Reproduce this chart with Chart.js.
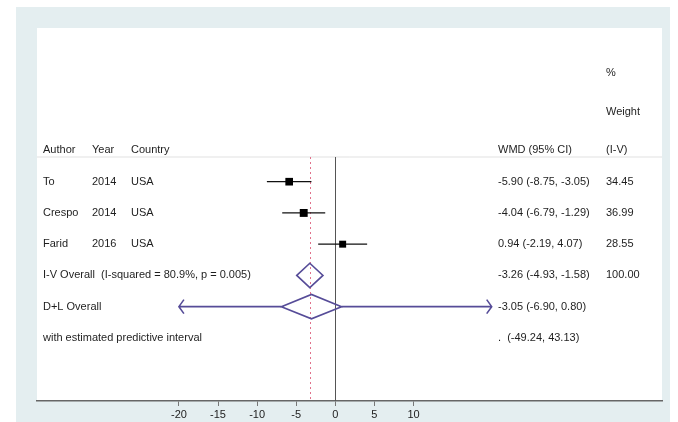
<!DOCTYPE html>
<html>
<head>
<meta charset="utf-8">
<script src="https://cdn.jsdelivr.net/npm/chart.js@4.4.1/dist/chart.umd.min.js"></script>
<style>
  html, body { margin: 0; padding: 0; background: #fff; }
  #wrap { width: 678px; height: 422px; }
</style>
</head>
<body>
<div id="wrap"><canvas id="forest" width="678" height="422"></canvas></div>
<script>
// study rows
const authors = ["To", "Crespo", "Farid"];
const years = ["2014", "2014", "2016"];
const countries = ["USA", "USA", "USA"];
const wmd = [-5.90, -4.04, 0.94];
const ciLow = [-8.75, -6.79, -2.19];
const ciHigh = [-3.05, -1.29, 4.07];
const weights = [34.45, 36.99, 28.55];

// pooled rows
const overallLabels = ["I-V Overall  (I-squared = 80.9%, p = 0.005)", "D+L Overall"];
const overallEst = [-3.26, -3.05];
const overallLow = [-4.93, -6.90];
const overallHigh = [-1.58, 0.80];
const overallWeight = ["100.00", ""];
const predLabel = "with estimated predictive interval";
const predInterval = [-49.24, 43.13];
const plotClip = [-20, 20];

const xTicks = [-20, -15, -10, -5, 0, 5, 10];

const FONT = '11px "Liberation Sans", Arial, sans-serif';
const TEXT = "#1e1e1e";
const DIAMOND = "#564c98";
const fmt = v => v.toFixed(2);

const studyRows = authors.map((_, i) => i + 1);
const ivRow = authors.length + 1;
const dlRow = authors.length + 2;
const predRow = authors.length + 3;

const forestPlugin = {
  id: "forest",
  beforeDraw(chart) {
    const { ctx, chartArea: a } = chart;
    ctx.save();
    ctx.fillStyle = "#fff";
    ctx.fillRect(0, 0, chart.width, chart.height);
    ctx.fillStyle = "#e4eef0";
    ctx.fillRect(16, 7, 654, 415);
    ctx.fillStyle = "#fff";
    ctx.fillRect(a.left, a.top, a.right - a.left, a.bottom - a.top);
    ctx.restore();
  },
  beforeDatasetsDraw(chart) {
    const { ctx, chartArea: a, scales: { x, y } } = chart;
    const sepY = y.getPixelForValue(0.21);
    ctx.save();
    // separator under header
    ctx.strokeStyle = "#e2e2e2";
    ctx.lineWidth = 1;
    ctx.beginPath();
    ctx.moveTo(a.left, sepY); ctx.lineTo(a.right, sepY);
    ctx.stroke();
    // no-effect line
    ctx.strokeStyle = "#555";
    ctx.beginPath();
    ctx.moveTo(Math.round(x.getPixelForValue(0)) + 0.5, sepY);
    ctx.lineTo(Math.round(x.getPixelForValue(0)) + 0.5, a.bottom);
    ctx.stroke();
    // overall effect line
    ctx.strokeStyle = "#e0708a";
    ctx.setLineDash([2, 3]);
    ctx.beginPath();
    ctx.moveTo(Math.round(x.getPixelForValue(overallEst[0])) + 0.5, sepY);
    ctx.lineTo(Math.round(x.getPixelForValue(overallEst[0])) + 0.5, a.bottom);
    ctx.stroke();
    ctx.setLineDash([]);
    // study CIs
    ctx.strokeStyle = "#111";
    ctx.lineWidth = 1.2;
    studyRows.forEach((r, i) => {
      const py = y.getPixelForValue(r);
      ctx.beginPath();
      ctx.moveTo(x.getPixelForValue(ciLow[i]), py);
      ctx.lineTo(x.getPixelForValue(ciHigh[i]), py);
      ctx.stroke();
    });
    ctx.restore();
  },
  afterDatasetsDraw(chart) {
    const { ctx, scales: { x, y } } = chart;
    ctx.save();
    // diamonds
    ctx.strokeStyle = DIAMOND;
    ctx.lineWidth = 1.6;
    [ivRow, dlRow].forEach((r, i) => {
      const py = y.getPixelForValue(r);
      const h = y.getPixelForValue(r + 0.39) - py;
      const lo = x.getPixelForValue(overallLow[i]);
      const hi = x.getPixelForValue(overallHigh[i]);
      const c = x.getPixelForValue(overallEst[i]);
      ctx.beginPath();
      ctx.moveTo(lo, py); ctx.lineTo(c, py - h); ctx.lineTo(hi, py); ctx.lineTo(c, py + h);
      ctx.closePath();
      ctx.stroke();
    });
    // predictive interval, clipped with arrows
    const dy = y.getPixelForValue(dlRow);
    const pl = x.getPixelForValue(Math.max(predInterval[0], plotClip[0]));
    const ph = x.getPixelForValue(Math.min(predInterval[1], plotClip[1]));
    ctx.beginPath();
    ctx.moveTo(pl, dy); ctx.lineTo(x.getPixelForValue(overallLow[1]), dy);
    ctx.moveTo(x.getPixelForValue(overallHigh[1]), dy); ctx.lineTo(ph, dy);
    ctx.moveTo(pl + 5, dy - 7); ctx.lineTo(pl, dy); ctx.lineTo(pl + 5, dy + 7);
    ctx.moveTo(ph - 5, dy - 7); ctx.lineTo(ph, dy); ctx.lineTo(ph - 5, dy + 7);
    ctx.stroke();

    // text columns
    ctx.font = FONT;
    ctx.fillStyle = TEXT;
    ctx.textBaseline = "middle";
    const colAuthor = 43, colYear = 92, colCountry = 131, colWmd = 498, colW = 606;
    const at = r => y.getPixelForValue(r);
    ctx.fillText("%", colW, at(-2.48));
    ctx.fillText("Weight", colW, at(-1.23));
    ctx.fillText("Author", colAuthor, at(0));
    ctx.fillText("Year", colYear, at(0));
    ctx.fillText("Country", colCountry, at(0));
    ctx.fillText("WMD (95% CI)", colWmd, at(0));
    ctx.fillText("(I-V)", colW, at(0));
    studyRows.forEach((r, i) => {
      ctx.fillText(authors[i], colAuthor, at(r));
      ctx.fillText(years[i], colYear, at(r));
      ctx.fillText(countries[i], colCountry, at(r));
      ctx.fillText(`${fmt(wmd[i])} (${fmt(ciLow[i])}, ${fmt(ciHigh[i])})`, colWmd, at(r));
      ctx.fillText(fmt(weights[i]), colW, at(r));
    });
    [ivRow, dlRow].forEach((r, i) => {
      ctx.fillText(overallLabels[i], colAuthor, at(r));
      ctx.fillText(`${fmt(overallEst[i])} (${fmt(overallLow[i])}, ${fmt(overallHigh[i])})`, colWmd, at(r));
      ctx.fillText(overallWeight[i], colW, at(r));
    });
    ctx.fillText(predLabel, colAuthor, at(predRow));
    ctx.fillText(`.  (${fmt(predInterval[0])}, ${fmt(predInterval[1])})`, colWmd, at(predRow));
    ctx.restore();
  }
};

new Chart(document.getElementById("forest"), {
  type: "scatter",
  data: {
    datasets: [{
      label: "Studies",
      data: wmd.map((v, i) => ({ x: v, y: studyRows[i] })),
      pointStyle: "rect",
      pointRadius: weights.map(w => Math.sqrt(w / 34.45) * 5.4),
      backgroundColor: "#000",
      borderColor: "#000",
      borderWidth: 0
    }]
  },
  options: {
    responsive: false,
    animation: false,
    events: [],
    layout: { padding: { left: 37, right: 16, top: 28, bottom: 0 } },
    plugins: { legend: { display: false }, tooltip: { enabled: false } },
    scales: {
      x: {
        type: "linear",
        min: -38.15,
        max: 41.78,
        afterBuildTicks: s => { s.ticks = xTicks.map(v => ({ value: v })); },
        afterFit: s => { s.height = 21; },
        grid: { drawOnChartArea: false, drawTicks: true, tickLength: 5, color: "#777" },
        border: { display: true, color: "#666", width: 1.5 },
        ticks: { autoSkip: false, maxRotation: 0, padding: 2, color: "#222",
                 font: { family: '"Liberation Sans", Arial, sans-serif', size: 11 } }
      },
      y: {
        type: "linear",
        display: false,
        reverse: true,
        min: -3.92,
        max: 8.02
      }
    }
  },
  plugins: [forestPlugin]
});
</script>
</body>
</html>
